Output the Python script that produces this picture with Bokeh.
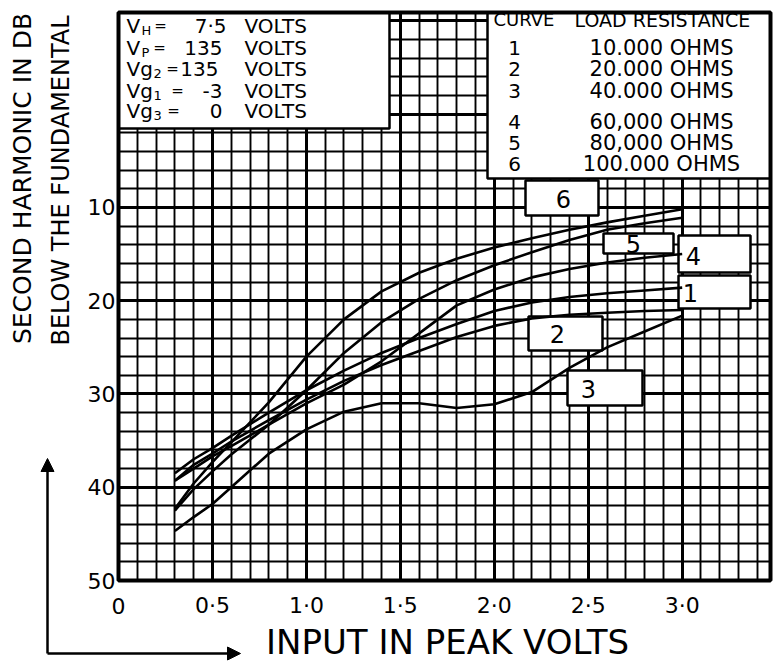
import numpy as np
from bokeh.plotting import figure
from bokeh.models import Range1d, FixedTicker, Label, Arrow, NormalHead, Grid
from bokeh.core.properties import value
from bokeh.embed import file_html
from bokeh.resources import INLINE

# ---------------- data ----------------
input_volts = [0.3, 0.4, 0.5, 0.6, 0.8, 1.0, 1.2, 1.4, 1.6, 1.8, 2.0, 2.2, 2.4, 2.6, 2.8, 3.0]
curve1_db = [38.5, 37.0, 35.8, 34.5, 32.0, 29.6, 27.5, 25.6, 24.0, 22.5, 21.1, 20.2, 19.6, 19.2, 18.9, 18.6]
curve2_db = [39.3, 37.6, 36.4, 35.1, 32.8, 30.6, 28.6, 26.9, 25.4, 23.9, 22.7, 21.9, 21.5, 21.3, 21.1, 21.0]
curve3_db = [44.7, 43.2, 41.8, 40.0, 36.4, 33.8, 31.9, 31.0, 31.0, 31.5, 31.1, 29.8, 27.2, 25.0, 23.3, 21.6]
curve4_db = [39.3, 38.0, 36.7, 35.6, 33.3, 31.0, 29.0, 26.5, 23.5, 20.5, 18.8, 17.5, 16.6, 15.9, 15.4, 15.0]
curve5_db = [42.5, 40.2, 38.3, 36.5, 33.3, 29.6, 25.6, 22.3, 19.8, 17.8, 16.2, 14.8, 13.5, 12.4, 11.7, 11.1]
curve6_db = [42.3, 39.6, 37.3, 35.2, 30.9, 26.0, 22.0, 19.0, 17.0, 15.5, 14.3, 13.3, 12.4, 11.6, 10.9, 10.2]
curves = [curve1_db, curve2_db, curve3_db, curve4_db, curve5_db, curve6_db]

x_ticks = [0, 0.5, 1.0, 1.5, 2.0, 2.5, 3.0]
x_tick_labels = ["0", "0·5", "1·0", "1·5", "2·0", "2·5", "3·0"]
y_ticks = [10, 20, 30, 40, 50]
y_tick_labels = ["10", "20", "30", "40", "50"]

curve_ids = ["1", "2", "3", "4", "5", "6"]
load_resistance = ["10.000 OHMS", "20.000 OHMS", "40.000 OHMS", "60,000 OHMS", "80,000 OHMS", "100.000 OHMS"]

cond_sym = ["V", "V", "Vg", "Vg", "Vg"]
cond_sub = ["H", "P", "2", "1", "3"]
cond_val = ["7·5", "135", "135", "-3", "0"]

FONT = "DejaVu Sans"

# chart area limits (data units)
X_MIN, X_MAX = 0.0, 3.47
Y_TOP, Y_BOT = -10.9, 50.0

# page-pixel -> data helpers (layout only): chart frame spans px 118..770, 12..580
W, H = 773, 665
def X(px):
    return X_MIN + (px - 118.0) * (X_MAX - X_MIN) / (770.0 - 118.0)
def Y(py):
    return Y_TOP + (py - 12.0) * (Y_BOT - Y_TOP) / (580.0 - 12.0)

p = figure(width=W, height=H, x_range=Range1d(X(0), X(W)), y_range=Range1d(Y(H), Y(0)),
           output_backend="svg", toolbar_location=None,
           x_axis_type=None, y_axis_type=None,
           min_border_left=0, min_border_right=0, min_border_top=0, min_border_bottom=0)
p.background_fill_color = "white"
p.border_fill_color = "white"
p.outline_line_color = None

# grid restricted to chart area
xgrid = Grid(dimension=0,
             ticker=FixedTicker(ticks=[0, 0.5, 1.0, 1.5, 2.0, 2.5, 3.0],
                                minor_ticks=list(np.round(np.arange(0.1, 3.45, 0.1), 2))),
             bounds=(X_MIN, X_MAX), cross_bounds=(Y_TOP, Y_BOT))
ygrid = Grid(dimension=1,
             ticker=FixedTicker(ticks=[-10, 0, 10, 20, 30, 40, 50],
                                minor_ticks=list(range(-10, 51, 2))),
             bounds=(Y_TOP, Y_BOT), cross_bounds=(X_MIN, X_MAX))
for g in (xgrid, ygrid):
    g.grid_line_color = "black"
    g.grid_line_width = 3
    g.minor_grid_line_color = "black"
    g.minor_grid_line_width = 1.9
    p.add_layout(g)

# white label boxes (layout, page pixels)
boxes = [
    (118, 389, 12, 128),   # conditions box
    (487, 770, 12, 178),   # legend box
    (525, 598, 180, 215),  # 6
    (603, 673, 233, 253),  # 5
    (678, 750, 235, 272),  # 4
    (678, 750, 275, 308),  # 1
    (528, 602, 316, 350),  # 2
    (567, 642, 370, 405),  # 3
]
p.quad(left=[X(b[0]) for b in boxes], right=[X(b[1]) for b in boxes],
       top=[Y(b[2]) for b in boxes], bottom=[Y(b[3]) for b in boxes],
       fill_color="white", line_color="black", line_width=2.5)

# chart frame
p.quad(left=[X_MIN], right=[X_MAX], top=[Y_TOP], bottom=[Y_BOT],
       fill_color=None, line_color="black", line_width=4)

# curves
for c in curves:
    p.line(input_volts, c, line_color="black", line_width=2.6, line_join="round")

# tick labels (through the data scales)
p.text(x=x_ticks, y=[Y(605)] * len(x_ticks), text=x_tick_labels, text_font=value(FONT),
       text_font_size="22px", text_align="center", text_baseline="middle", text_color="black")
p.text(x=[X(115)] * len(y_ticks), y=y_ticks, text=y_tick_labels, text_font=value(FONT),
       text_font_size="22px", text_align="right", text_baseline="middle", text_color="black")

def lab(px, py, text, size, align="left", angle=0, baseline="middle"):
    p.add_layout(Label(x=X(px), y=Y(py), text=text, text_font=FONT, text_font_size=size,
                       text_align=align, text_baseline=baseline, angle=angle,
                       text_color="black"))

# conditions box
row_y = [25, 47, 68, 90, 110]
eq_x = [160, 159, 172, 177, 173]
val_right = [226, 222, 218, 222, 222]
for i in range(5):
    lab(126, row_y[i], cond_sym[i], "20px")
    sub_x = 141 if cond_sym[i] == "V" else 153
    lab(sub_x, row_y[i] + 5, cond_sub[i], "13px")
    lab(eq_x[i], row_y[i], "=", "15px", align="center")
    lab(val_right[i], row_y[i], cond_val[i], "20px", align="right")
    lab(244, row_y[i], "VOLTS", "20px")

# legend box
lab(493, 19, "CURVE", "18px")
lab(574, 19, "LOAD RESISTANCE", "19px")
leg_y = [47, 68, 90, 121, 142, 163]
for i in range(6):
    lab(514, leg_y[i], curve_ids[i], "20px", align="center")
    lab(661, leg_y[i], load_resistance[i], "21px", align="center")

# curve number tags
tag_pos = {"6": (563, 198), "5": (633, 243), "4": (693, 255), "1": (690, 292),
           "2": (557, 333), "3": (588, 388)}
for cid, (tx, ty) in tag_pos.items():
    lab(tx, ty, cid, "24px", align="center")

# axis titles
lab(22, 178, "SECOND HARMONIC IN DB", "25px", align="center", angle=np.pi / 2)
lab(60, 180, "BELOW THE FUNDAMENTAL", "24px", align="center", angle=np.pi / 2)
lab(447, 641, "INPUT IN PEAK VOLTS", "34px", align="center")

# arrows
head = dict(size=13, fill_color="black", line_color="black")
p.add_layout(Arrow(end=NormalHead(**head), x_start=X(47), y_start=Y(653), x_end=X(47), y_end=Y(458),
                   line_width=2.5, line_color="black"))
p.add_layout(Arrow(end=NormalHead(**head), x_start=X(47), y_start=Y(653), x_end=X(240), y_end=Y(653),
                   line_width=2.5, line_color="black"))

open("out.html", "w").write(file_html(p, INLINE))
